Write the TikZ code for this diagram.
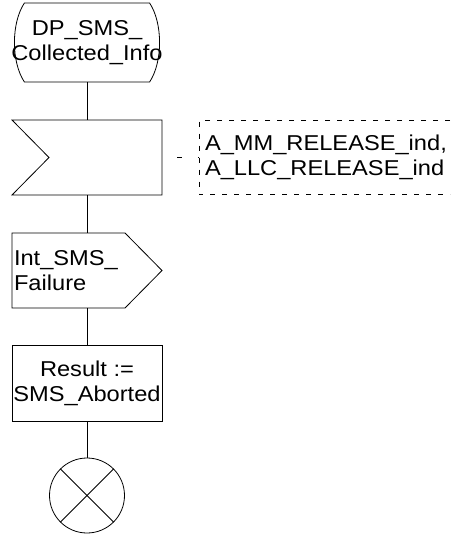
\documentclass[tikz,border=0pt]{standalone}
\usepackage{fontspec}
\setmainfont[FakeStretch=1.1]{Liberation Sans}
\usetikzlibrary{positioning,calc}
\newcommand{\sdlfont}{\fontsize{21.5}{25}\selectfont}
\tikzset{
  sdlbox/.style={minimum width=150pt, minimum height=75pt, inner sep=0pt, outer sep=0pt,
                 align=center, font=\sdlfont},
  sdlline/.style={black, line width=0.8pt},
  cmtline/.style={black, line width=0.6pt, dash pattern=on 5pt off 7pt},
  stopbox/.style={circle, draw, line width=0.8pt, minimum size=75pt, inner sep=0pt, outer sep=0pt},
}

\begin{document}
\begin{tikzpicture}[x=1pt, y=-1pt]
  \useasboundingbox (0,0) rectangle (454,536);
  % start
  \node[sdlbox, minimum height=79pt] (start) at (87,42.5) {DP\_SMS\_\\Collected\_Info};
  \draw[sdlline] ($(start.north west)+(13,0)$) -- ($(start.north east)+(-13,0)$)
      .. controls +(13.3,20) and +(13.3,-20) .. ($(start.south east)+(-13,0)$)
      -- ($(start.south west)+(13,0)$)
      .. controls +(-13.3,-20) and +(-13.3,20) .. ($(start.north west)+(13,0)$) -- cycle;
  % input signal
  \node[sdlbox, below=38pt of start] (recv) {};
  \draw[sdlline] (recv.north west) -- (recv.north east) -- (recv.south east)
      -- (recv.south west) -- ($(recv.west)+(37,0)$) -- cycle;
  \node[sdlbox, minimum height=74pt, minimum width=251pt, text width=239pt, align=left,
        right=37pt of recv] (cmt) {A\_MM\_RELEASE\_ind,\\A\_LLC\_RELEASE\_ind};
  \draw[cmtline] (cmt.north east) -- (cmt.north west) -- (cmt.south west) -- (cmt.south east);
  \draw[black, line width=0.6pt, dash pattern=on 5pt off 16pt, dash phase=6pt] (recv.east) -- (cmt.west);
  % output signal
  \node[sdlbox, text width=146pt, align=left, below=38pt of recv] (fail) {Int\_SMS\_\\Failure};
  \draw[sdlline] (fail.north west) -- ($(fail.north east)+(-37,0)$) -- (fail.east)
      -- ($(fail.south east)+(-37,0)$) -- (fail.south west) -- cycle;
  % task
  \node[sdlbox, draw, line width=0.8pt, minimum height=76pt, below=37pt of fail] (res) {Result :=\\SMS\_Aborted};
  % stop
  \node[stopbox, below=37pt of res] (stop) {};
  \draw[sdlline] (stop.north west) -- (stop.south east);
  \draw[sdlline] (stop.north east) -- (stop.south west);
  % flow lines
  \draw[sdlline] (start.south) -- (recv.north);
  \draw[sdlline] (recv.south) -- (fail.north);
  \draw[sdlline] (fail.south) -- (res.north);
  \draw[sdlline] (res.south) -- (stop.north);
\end{tikzpicture}
\end{document}
